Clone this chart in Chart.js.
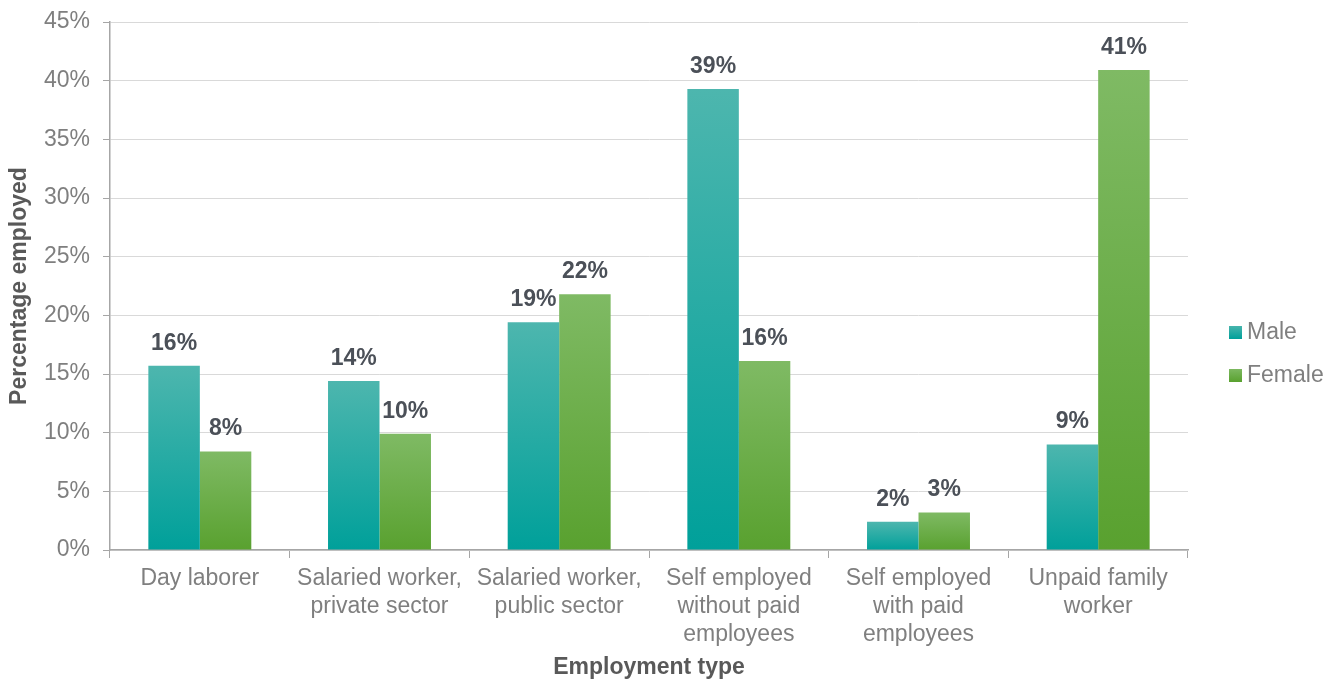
<!DOCTYPE html>
<html>
<head>
<meta charset="utf-8">
<script src="https://cdn.jsdelivr.net/npm/chart.js@4.4.1/dist/chart.umd.min.js"></script>
<style>
  html, body { margin: 0; padding: 0; background: #fff; }
  #wrap { width: 1328px; height: 681px; }
</style>
</head>
<body>
<div id="wrap"><canvas id="empchart" width="1328" height="681"></canvas></div>
<script>
// employment by type, percent of employed
var categories = [
  'Day laborer',
  ['Salaried worker,', 'private sector'],
  ['Salaried worker,', 'public sector'],
  ['Self employed', 'without paid', 'employees'],
  ['Self employed', 'with paid', 'employees'],
  ['Unpaid family', 'worker']
]
var maleValues = [15.7, 14.4, 19.4, 39.3, 2.4, 9.0]
var femaleValues = [8.4, 9.9, 21.8, 16.1, 3.2, 40.9]
var yTicks = [0, 5, 10, 15, 20, 25, 30, 35, 40, 45]

var fontFam = 'Arial, "Liberation Sans", sans-serif'
var maleShades = ['#4db6ae', '#00a09a']
var femaleShades = ['#7fba64', '#59a12f']

function barGradient(shades) {
  return function(context) {
    let chart = context.chart
    if (!chart.chartArea || context.type !== 'data') return shades[1]
    let y = chart.scales.y
    let top = y.getPixelForValue(context.raw)
    let bottom = y.getPixelForValue(0)
    if (!isFinite(top) || bottom - top < 1) return shades[1]
    let g = chart.ctx.createLinearGradient(0, top, 0, bottom)
    g.addColorStop(0, shades[0])
    g.addColorStop(1, shades[1])
    return g
  }
}

// percentage over each bar
const valueLabels = {
  id: 'valueLabels',
  afterDatasetsDraw(chart) {
    let ctx = chart.ctx
    ctx.save()
    ctx.font = 'bold 23px ' + fontFam
    ctx.fillStyle = '#4b5058'
    ctx.textAlign = 'center'
    ctx.textBaseline = 'alphabetic'
    chart.data.datasets.forEach((ds, i) => {
      chart.getDatasetMeta(i).data.forEach((bar, j) => {
        ctx.fillText(Math.round(ds.data[j]) + '%', bar.x, bar.y - 16)
      })
    })
    ctx.restore()
  }
}

// legend at the right side
const sideLegend = {
  id: 'sideLegend',
  afterDraw(chart) {
    let ctx = chart.ctx
    let rows = [332, 375]
    ctx.save()
    ctx.font = '23px ' + fontFam
    ctx.textBaseline = 'middle'
    chart.data.datasets.forEach((ds, i) => {
      let y = rows[i]
      let g = ctx.createLinearGradient(0, y - 7, 0, y + 7)
      g.addColorStop(0, ds.shades[0])
      g.addColorStop(1, ds.shades[1])
      ctx.fillStyle = g
      ctx.fillRect(1229, y - 6, 13, 13)
      ctx.fillStyle = '#7f7f7f'
      ctx.fillText(ds.label, 1247, y + 1)
    })
    ctx.restore()
  }
}

const empconfig = {
  type: 'bar',
  data: {
    labels: categories,
    datasets: [
      { label: 'Male', data: maleValues, shades: maleShades, backgroundColor: barGradient(maleShades) },
      { label: 'Female', data: femaleValues, shades: femaleShades, backgroundColor: barGradient(femaleShades) }
    ]
  },
  options: {
    responsive: false,
    animation: false,
    devicePixelRatio: 1,
    layout: { padding: { top: 22, right: 140, left: 0, bottom: 0 } },
    datasets: { bar: { categoryPercentage: 0.573, barPercentage: 1.0 } },
    scales: {
      x: {
        grid: { offset: true, drawOnChartArea: false, tickLength: 8, tickColor: '#a6a6a6' },
        border: { color: '#a6a6a6', width: 1.5 },
        ticks: { color: '#7f7f7f', font: { family: fontFam, size: 23, lineHeight: 1.22 }, padding: 7, maxRotation: 0, autoSkip: false },
        title: { display: true, text: 'Employment type', color: '#595959', font: { family: fontFam, size: 23, weight: 'bold' }, padding: { top: 0, bottom: 0 } },
        afterFit: s => { s.height = 131 }
      },
      y: {
        min: 0,
        max: 45,
        afterBuildTicks: s => { s.ticks = yTicks.map(v => ({ value: v })) },
        grid: { color: '#d9d9d9', tickLength: 7, tickColor: '#a6a6a6' },
        border: { color: '#a6a6a6', width: 1.5 },
        ticks: { color: '#7f7f7f', font: { family: fontFam, size: 23 }, padding: 13, callback: v => v + '%' },
        title: { display: true, text: 'Percentage employed', color: '#595959', font: { family: fontFam, size: 23, weight: 'bold' }, padding: { top: 6, bottom: 0 } },
        afterFit: s => { s.width = 110; s.paddingTop = 0; s.paddingBottom = 0 }
      }
    },
    plugins: {
      legend: { display: false },
      tooltip: { enabled: false }
    }
  },
  plugins: [valueLabels, sideLegend]
}

new Chart(document.getElementById('empchart'), empconfig)
</script>
</body>
</html>
